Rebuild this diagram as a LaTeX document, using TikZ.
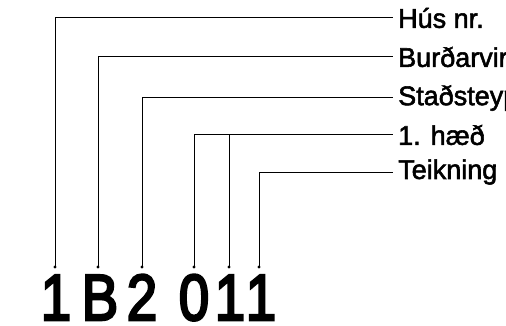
\documentclass[tikz,border=0pt]{standalone}
\usepackage{fontspec}
\setmainfont{Liberation Sans}
\newfontfamily\labfont{Liberation Sans}[FakeBold=2]
\newfontfamily\digfont{Liberation Sans}[FakeBold=4]
\begin{document}
\begin{tikzpicture}[x=1pt,y=-1pt,
  lab/.style={anchor=west,inner sep=0pt,font=\labfont\fontsize{27}{30}\selectfont},
  dig/.style={anchor=base,inner sep=0pt,font=\digfont\fontsize{65}{70}\selectfont},
  conn/.style={line width=0.9pt},
  dotf/.style={fill=black}]
\useasboundingbox (0,0) rectangle (506,326);
\clip (0,0) rectangle (506,326);
% labels
\node[lab] (l1) at (398,18) {Hús nr.};
\node[lab] (l2) at (398,57) {Burðarvirki};
\node[lab] (l3) at (398,98) {Staðsteypt};
\node[lab] (l4) at (398,135) {1. hæð};
\node[lab] (l5) at (398,172) {Teikning};
% digits
\node[dig] (d1) at (56,320) {\scalebox{0.84}[1]{1}};
\node[dig] (d2) at (100,320) {\scalebox{0.84}[1]{B}};
\node[dig] (d3) at (142,320) {\scalebox{0.84}[1]{2}};
\node[dig] (d4) at (194,320) {\scalebox{0.84}[1]{0}};
\node[dig] (d5) at (230,320) {\scalebox{0.84}[1]{1}};
\node[dig] (d6) at (261,320) {\scalebox{0.84}[1]{1}};
% connector start points
\coordinate (p1) at (55,267);
\coordinate (p2) at (98,267);
\coordinate (p3) at (142,267);
\coordinate (p4) at (194,267);
\coordinate (p5) at (229,267);
\coordinate (p6) at (259,267);
\coordinate (e1) at (393,17);
\coordinate (e2) at (393,56);
\coordinate (e3) at (393,97);
\coordinate (e4) at (393,134);
\coordinate (e5) at (393,172);
\draw[conn] (p1) |- (e1);
\draw[conn] (p2) |- (e2);
\draw[conn] (p3) |- (e3);
\draw[conn] (p4) |- (e4);
\draw[conn] (p5) -- (p5 |- e4);
\draw[conn] (p6) |- (e5);
\foreach \p in {p1,p2,p3,p4,p5,p6} \fill[dotf] (\p) circle (1.7);
\end{tikzpicture}
\end{document}
